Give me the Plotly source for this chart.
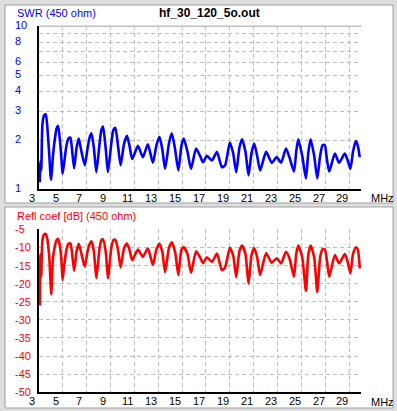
import numpy as np
import plotly.graph_objects as go

W, H = 397, 411

# ---- data ----
freq_mhz = [3.10, 3.16, 3.22, 3.32, 3.45, 3.60, 3.72, 3.80, 3.90, 4.00, 4.06, 4.20, 4.35, 4.50, 4.63,
            4.78, 4.92, 5.00, 5.14, 5.33, 5.50, 5.66, 5.78, 5.97, 6.18, 6.36, 6.55, 6.86, 7.08, 7.25,
            7.42, 7.62, 7.83, 8.10, 8.25, 8.39, 8.62, 8.80, 9.08, 9.25, 9.42, 9.64, 9.86, 10.15, 10.39,
            10.60, 10.83, 11.31, 11.72, 12.14, 12.56, 12.85, 13.11, 13.35, 13.58, 13.90, 14.14, 14.42,
            14.69, 14.95, 15.14, 15.45, 15.75, 16.17, 16.50, 16.75, 17.08, 17.50, 17.92, 18.33, 18.60,
            19.00, 19.28, 19.53, 19.80, 20.02, 20.30, 20.56, 20.80, 21.03, 21.28, 21.53, 22.03, 22.50,
            22.92, 23.28, 23.69, 24.00, 24.36, 24.55, 24.72, 25.05, 25.36, 25.55, 25.75, 26.05, 26.31,
            26.55, 26.75, 26.94, 27.10, 27.31, 27.78, 28.14, 28.61, 28.85, 29.08, 29.30, 29.53, 29.70,
            29.86]

swr = [1.10, 1.48, 1.30, 2.50, 2.82, 2.88, 2.45, 2.04, 1.60, 1.20, 1.14, 1.60, 2.00, 2.35, 2.45,
       2.00, 1.50, 1.24, 1.45, 1.85, 2.05, 2.07, 1.80, 1.34, 1.80, 2.04, 1.75, 1.40, 1.75, 2.05,
       2.20, 1.80, 1.27, 1.90, 2.30, 2.42, 1.75, 1.27, 1.90, 2.30, 2.38, 1.85, 1.40, 1.90, 2.12,
       1.85, 1.53, 1.84, 1.57, 1.88, 1.45, 1.85, 2.09, 1.75, 1.33, 1.90, 2.20, 1.75,
       1.30, 1.85, 2.04, 1.70, 1.33, 1.77, 1.60, 1.46, 1.60, 1.50, 1.69, 1.36, 1.40,
       1.93, 1.65, 1.27, 1.80, 2.02, 1.70, 1.21, 1.65, 1.90, 1.60, 1.30, 1.69, 1.45,
       1.57, 1.45, 1.77, 1.55, 1.28, 1.70, 2.02, 1.60, 1.16, 1.65, 2.02, 1.60, 1.16,
       1.60, 1.86, 1.86, 1.55, 1.28, 1.65, 1.45, 1.65, 1.50, 1.33, 1.70, 1.97, 1.85,
       1.57]

refl_db = [-26.0, -12.0, -18.0, -8.0, -6.5, -6.3, -7.5, -9.5, -13.0, -20.0, -23.0, -13.0, -9.8, -8.0, -7.6,
           -9.5, -14.0, -19.0, -15.0, -10.6, -9.0, -8.9, -11.0, -16.5, -11.0, -9.0, -11.3, -15.3, -11.3, -9.2,
           -8.3, -11.0, -18.5, -10.2, -8.0, -7.8, -11.3, -18.5, -10.2, -8.0, -7.9, -10.6, -15.5, -10.2, -8.9,
           -10.6, -13.5, -10.6, -12.6, -10.3, -14.8, -10.6, -8.9, -11.3, -16.8, -10.2, -8.6, -11.3,
           -17.6, -10.6, -10.0, -11.8, -17.0, -11.1, -12.7, -14.3, -12.7, -14.0, -11.7, -16.3, -15.5,
           -10.1, -12.3, -18.2, -11.0, -9.5, -11.8, -20.0, -12.3, -10.2, -12.7, -17.6, -11.6, -14.2,
           -13.0, -14.4, -11.2, -13.2, -18.1, -11.8, -9.5, -12.7, -22.0, -12.3, -9.5, -12.7, -22.3,
           -12.7, -10.5, -10.5, -13.2, -18.1, -12.1, -14.4, -11.8, -14.0, -17.1, -11.8, -10.0, -10.6,
           -15.8]

x_ticks = [3, 5, 7, 9, 11, 13, 15, 17, 19, 21, 23, 25, 27, 29]
swr_ticks = [10, 8, 6, 5, 4, 3, 2, 1]
swr_grid = [2, 3, 4, 5, 6, 7, 8, 9]
db_ticks = [-5, -10, -15, -20, -25, -30, -35, -40, -45, -50]

# ---- layout geometry (pixels) ----
def px_x(p):
    return p / W

def px_y(p):
    return (H - p) / H

FONT = "Liberation Sans, Arial, sans-serif"
FS = 11
BLUE = "#0000ff"
RED = "#ff0000"
GRID = "#c0c0c0"

fig = go.Figure()
fig.add_trace(go.Scatter(x=freq_mhz, y=swr, mode="lines", xaxis="x", yaxis="y",
                         line=dict(color=BLUE, width=2.6, shape="spline", smoothing=0.6),
                         hoverinfo="skip", showlegend=False))
fig.add_trace(go.Scatter(x=freq_mhz, y=refl_db, mode="lines", xaxis="x2", yaxis="y2",
                         line=dict(color=RED, width=2.6, shape="spline", smoothing=0.6),
                         hoverinfo="skip", showlegend=False))

xdom = [px_x(38.6), px_x(361.4)]
xcommon = dict(domain=xdom, range=[3, 30], tickvals=x_ticks[1:], showticklabels=False,
               ticks="", showgrid=True, gridcolor=GRID, griddash="4px,3px", gridwidth=1,
               zeroline=False, showline=True, linecolor="black", linewidth=2, mirror=False,
               fixedrange=True)
fig.update_layout(
    width=W, height=H,
    margin=dict(l=0, r=0, t=0, b=0),
    paper_bgcolor="#dedede",
    plot_bgcolor="rgba(0,0,0,0)",
    xaxis=dict(anchor="y", **xcommon),
    xaxis2=dict(anchor="y2", **xcommon),
    yaxis=dict(domain=[px_y(189), px_y(26.3)], type="log", range=[0, 1], anchor="x",
               tickvals=swr_grid, showticklabels=False, ticks="", showgrid=True,
               gridcolor=GRID, griddash="4px,3px", gridwidth=1, zeroline=False,
               showline=True, linecolor="black", linewidth=1.5, fixedrange=True),
    yaxis2=dict(domain=[px_y(392.3), px_y(229.3)], range=[-50, -5], anchor="x2",
                tickvals=db_ticks[:-1], showticklabels=False, ticks="", showgrid=True,
                gridcolor=GRID, griddash="4px,3px", gridwidth=1, zeroline=False,
                showline=True, linecolor="black", linewidth=1.5, fixedrange=True),
)

shapes = []
# panels
for (y0, y1) in [(5, 203), (207, 408)]:
    shapes.append(dict(type="rect", xref="paper", yref="paper", layer="below",
                       x0=px_x(5), x1=px_x(393), y0=px_y(y1), y1=px_y(y0),
                       fillcolor="white", line=dict(color="#a0a0a0", width=1)))
# solid top line of the SWR chart (at 10)
shapes.append(dict(type="line", xref="x domain", yref="y domain", x0=0, x1=1, y0=1, y1=1,
                   line=dict(color=GRID, width=1.5), layer="below"))
fig.update_layout(shapes=shapes)

ann = []
# titles
ann.append(dict(text="SWR (450 ohm)", xref="paper", yref="paper", x=px_x(15), y=px_y(13),
                xanchor="left", yanchor="middle", showarrow=False,
                font=dict(family=FONT, size=FS, color=BLUE)))
ann.append(dict(text="<b>hf_30_120_5o.out</b>", xref="paper", yref="paper", x=px_x(209.5), y=px_y(13),
                xanchor="center", yanchor="middle", showarrow=False,
                font=dict(family=FONT, size=12, color="black")))
ann.append(dict(text="Refl coef [dB] (450 ohm)", xref="paper", yref="paper", x=px_x(15), y=px_y(215.5),
                xanchor="left", yanchor="middle", showarrow=False,
                font=dict(family=FONT, size=FS, color=RED)))
# y tick labels (left aligned)
for v in swr_ticks:
    ann.append(dict(text=str(v), xref="paper", yref="y", x=px_x(12.5), y=np.log10(v),
                    xanchor="left", yanchor="middle", yshift=1, showarrow=False,
                    font=dict(family=FONT, size=FS, color=BLUE)))
for v in db_ticks:
    ann.append(dict(text=str(v), xref="paper", yref="y2", x=px_x(12.5), y=v,
                    xanchor="left", yanchor="middle", showarrow=False,
                    font=dict(family=FONT, size=FS, color=RED)))
# x tick labels
for xr, yr in [("x", "y domain"), ("x2", "y2 domain")]:
    for v in x_ticks:
        ann.append(dict(text=str(v), xref=xr, yref=yr, x=v, y=0, xanchor="center",
                        yanchor="middle", xshift=-7, yshift=-9, showarrow=False,
                        font=dict(family=FONT, size=FS, color="black")))
for yp in [197.5, 401.5]:
    ann.append(dict(text="MHz", xref="paper", yref="paper", x=px_x(369), y=px_y(yp),
                    xanchor="left", yanchor="middle", showarrow=False,
                    font=dict(family=FONT, size=FS, color="black")))
fig.update_layout(annotations=ann)

fig.write_html(
    "out.html",
    config={"displayModeBar": False},
    post_script="document.body.style.margin='0';document.body.style.padding='0';"
                "document.documentElement.style.overflow='hidden';",
)
